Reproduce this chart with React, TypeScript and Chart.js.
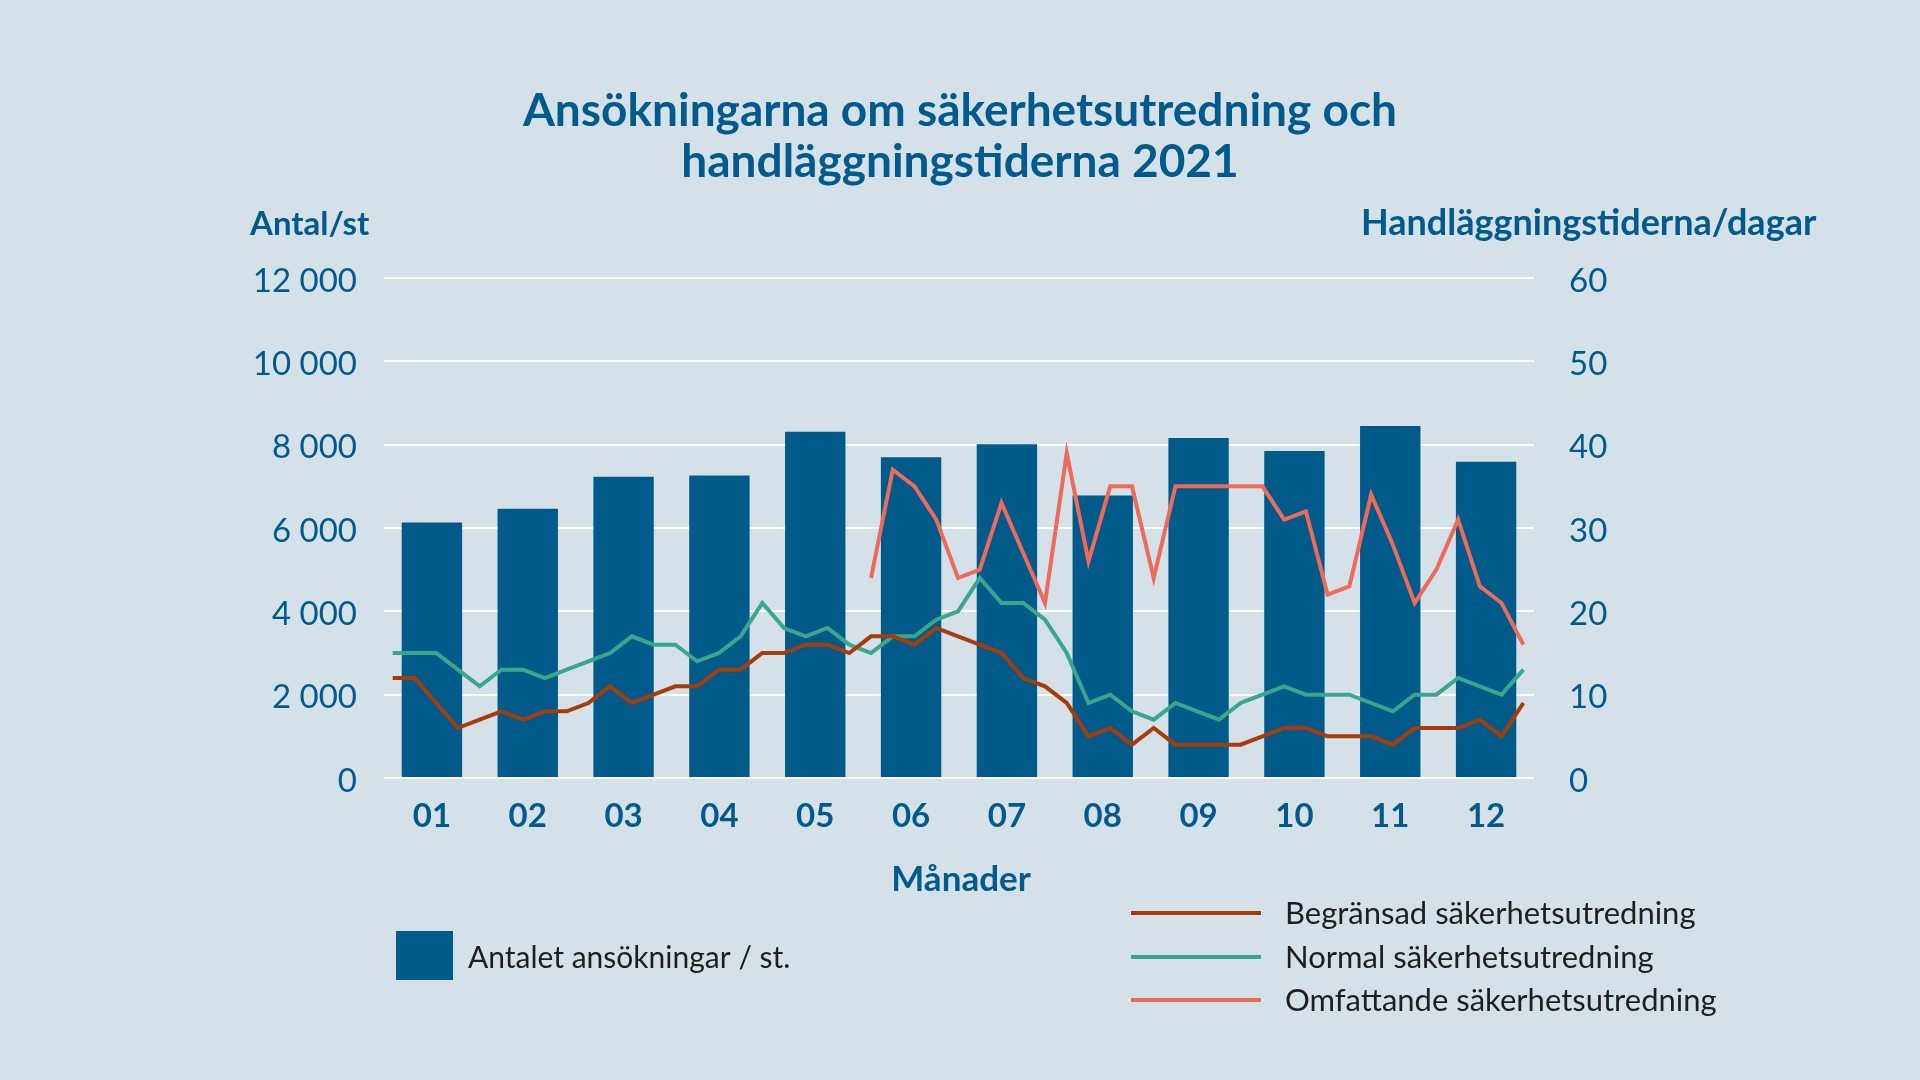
import React, { useEffect, useRef } from "react";
import { Chart, registerables } from "chart.js";

Chart.register(...registerables);

// ---- Data ----
const titleLines = ["Ansökningarna om säkerhetsutredning och", "handläggningstiderna 2021"];
const leftAxisTitle = "Antal/st";
const rightAxisTitle = "Handläggningstiderna/dagar";
const xAxisTitle = "Månader";

const months = ["01", "02", "03", "04", "05", "06", "07", "08", "09", "10", "11", "12"];
const applications = [6130, 6460, 7230, 7260, 8310, 7700, 8010, 6780, 8160, 7850, 8450, 7590];

// weekly processing times (days), 53 weekly points
const limited = [
  12, 12, 9, 6, 7, 8, 7, 8, 8, 9, 11, 9, 10, 11, 11, 13, 13, 15,
  15, 16, 16, 15, 17, 17, 16, 18, 17, 16, 15, 12, 11, 9, 5, 6, 4,
  6, 4, 4, 4, 4, 5, 6, 6, 5, 5, 5, 4, 6, 6, 6, 7, 5, 9,
];
const normal = [
  15, 15, 15, 13, 11, 13, 13, 12, 13, 14, 15, 17, 16, 16, 14, 15, 17, 21,
  18, 17, 18, 16, 15, 17, 17, 19, 20, 24, 21, 21, 19, 15, 9, 10, 8,
  7, 9, 8, 7, 9, 10, 11, 10, 10, 10, 9, 8, 10, 10, 12, 11, 10, 13,
];
const extensive: (number | null)[] = [
  null, null, null, null, null, null, null, null, null, null, null,
  null, null, null, null, null, null, null, null, null, null, null,
  24, 37, 35, 31, 24, 25, 33, 27, 21, 39, 26, 35, 35,
  24, 35, 35, 35, 35, 35, 31, 32, 22, 23, 34, 28, 21, 25, 31, 23, 21, 16,
];

const leftTicks = [0, 2000, 4000, 6000, 8000, 10000, 12000];
const rightTicks = [0, 10, 20, 30, 40, 50, 60];

const seriesLabels = [
  "Antalet ansökningar / st.",
  "Begränsad säkerhetsutredning",
  "Normal säkerhetsutredning",
  "Omfattande säkerhetsutredning",
];

// ---- Styles ----
const BG = "#d4e1e9";
const BLUE = "#005b8a";
const TEXT_BLUE = "#005a8c";
const BROWN = "#a63c0c";
const GREEN = "#3aa68c";
const SALMON = "#ec6b5a";
const FONT = "Lato";

const toPoints = (arr: (number | null)[]) => arr.map((v, i) => ({ x: i, y: v }));

const fmtThousands = (v: number) => {
  if (v < 1000) return String(v);
  const th = Math.floor(v / 1000);
  const rest = String(v % 1000).padStart(3, "0");
  return `${th} ${rest}`;
};

const decorPlugin = {
  id: "decor",
  beforeDraw(chart: any) {
    const ctx = chart.ctx;
    ctx.save();
    ctx.fillStyle = BG;
    ctx.fillRect(0, 0, chart.width, chart.height);
    ctx.restore();
  },
  afterDraw(chart: any) {
    const ctx = chart.ctx;
    ctx.save();
    ctx.fillStyle = TEXT_BLUE;
    ctx.textBaseline = "alphabetic";
    ctx.textAlign = "center";
    ctx.font = `bold 46px ${FONT}`;
    ctx.fillText(titleLines[0], 960, 126);
    ctx.fillText(titleLines[1], 960, 177);

    ctx.textAlign = "left";
    ctx.font = `bold 33px ${FONT}`;
    ctx.fillText(leftAxisTitle, 250, 235);
    ctx.font = `bold 36px ${FONT}`;
    ctx.fillText(rightAxisTitle, 1361, 235);
    ctx.font = `bold 35px ${FONT}`;
    ctx.textAlign = "center";
    ctx.fillText(xAxisTitle, 961, 891);

    // legend: bars
    ctx.fillStyle = BLUE;
    ctx.fillRect(396, 931, 57, 49);
    ctx.fillStyle = "#1e1e1e";
    ctx.textAlign = "left";
    ctx.textBaseline = "middle";
    ctx.font = `30px ${FONT}`;
    ctx.fillText(seriesLabels[0], 468, 958);

    const lineItems = [
      { label: seriesLabels[1], color: BROWN, y: 914 },
      { label: seriesLabels[2], color: GREEN, y: 958 },
      { label: seriesLabels[3], color: SALMON, y: 1001 },
    ];
    ctx.font = `31px ${FONT}`;
    lineItems.forEach((it) => {
      ctx.strokeStyle = it.color;
      ctx.lineWidth = 4;
      ctx.beginPath();
      ctx.moveTo(1131, it.y - 1);
      ctx.lineTo(1261, it.y - 1);
      ctx.stroke();
      ctx.fillStyle = "#1e1e1e";
      ctx.fillText(it.label, 1285, it.y);
    });
    ctx.restore();
  },
};

export default function App() {
  const ref = useRef<HTMLCanvasElement | null>(null);

  useEffect(() => {
    if (!ref.current) return;
    const lineCommon = {
      type: "line",
      xAxisID: "xw",
      yAxisID: "y2",
      borderWidth: 4,
      pointRadius: 0,
      tension: 0,
      spanGaps: false,
    };
    const chart = new Chart(ref.current, {
      type: "bar",
      data: {
        labels: months,
        datasets: [
          { ...lineCommon, label: seriesLabels[1], data: toPoints(limited), borderColor: BROWN, order: 1 } as any,
          { ...lineCommon, label: seriesLabels[2], data: toPoints(normal), borderColor: GREEN, order: 2 } as any,
          { ...lineCommon, label: seriesLabels[3], data: toPoints(extensive), borderColor: SALMON, order: 0 } as any,
          {
            type: "bar",
            label: seriesLabels[0],
            data: applications,
            xAxisID: "x",
            yAxisID: "y",
            backgroundColor: BLUE,
            categoryPercentage: 1,
            barPercentage: 0.63,
            grouped: false,
            order: 10,
          } as any,
        ],
      },
      options: {
        responsive: false,
        maintainAspectRatio: false,
        animation: false,
        layout: { padding: { top: 278, bottom: 242, left: 0, right: 0 } },
        plugins: {
          legend: { display: false },
          title: { display: false },
          tooltip: { enabled: false },
        },
        scales: {
          x: {
            type: "category",
            offset: true,
            grid: { display: false, drawTicks: false },
            border: { display: false },
            ticks: {
              color: TEXT_BLUE,
              font: { family: FONT, size: 33, weight: "bold" },
              padding: 19,
              maxRotation: 0,
            },
            afterFit: (s: any) => {
              s.height = 60;
            },
          },
          xw: {
            type: "linear",
            axis: "x",
            position: "bottom",
            display: false,
            offset: false,
            grid: { offset: false },
            min: -0.4,
            max: 52.49,
          },
          y: {
            position: "left",
            min: 0,
            max: 12000,
            afterBuildTicks: (s: any) => {
              s.ticks = leftTicks.map((v) => ({ value: v }));
            },
            ticks: {
              color: TEXT_BLUE,
              font: { family: FONT, size: 33 },
              padding: 27,
              labelOffset: 3,
              callback: (v: any) => fmtThousands(Number(v)),
            },
            grid: { color: "#ffffff", lineWidth: 2, drawTicks: false },
            border: { display: false },
            afterFit: (s: any) => {
              s.width = 384;
            },
          },
          y2: {
            position: "right",
            min: 0,
            max: 60,
            afterBuildTicks: (s: any) => {
              s.ticks = rightTicks.map((v) => ({ value: v }));
            },
            ticks: {
              color: TEXT_BLUE,
              font: { family: FONT, size: 33 },
              padding: 35,
              labelOffset: 3,
            },
            grid: { display: false, drawTicks: false },
            border: { display: false },
            afterFit: (s: any) => {
              s.width = 386;
            },
          },
        },
      } as any,
      plugins: [decorPlugin],
    });
    return () => chart.destroy();
  }, []);

  return (
    <div style={{ position: "absolute", left: 0, top: 0, width: 1920, height: 1080, background: BG }}>
      <canvas ref={ref} width={1920} height={1080} style={{ width: 1920, height: 1080, display: "block" }} />
    </div>
  );
}
